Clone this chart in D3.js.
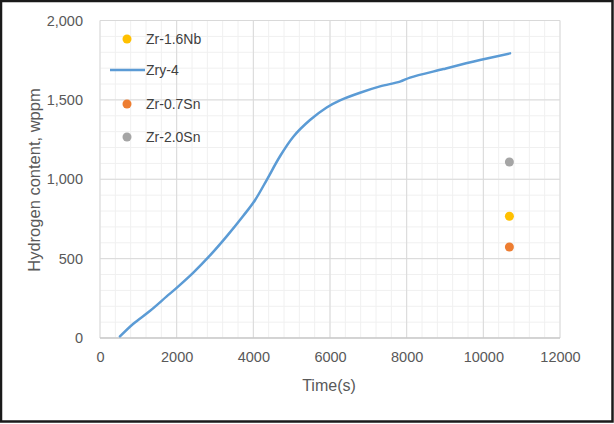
<!DOCTYPE html>
<html><head><meta charset="utf-8">
<script src="https://cdn.jsdelivr.net/npm/d3@7"></script>
<style>body{margin:0;background:#fff}svg{display:block}</style>
</head><body>
<script>
const zry4Time = [520, 870, 1300, 1740, 2000, 2435, 2870, 3304, 3739, 4043, 4348, 4696, 5043, 5478, 5913, 6261, 6783, 7304, 7826, 8087, 8957, 9913, 10696];
const zry4H =    [10, 90, 170, 262, 316, 412, 520, 640, 770, 868, 995, 1145, 1268, 1373, 1452, 1497, 1545, 1585, 1615, 1640, 1694, 1751, 1793];
const pointNames = ["Zr-1.6Nb", "Zr-0.7Sn", "Zr-2.0Sn"];
const pointTime = [10680, 10680, 10680];
const pointH = [767, 573, 1109];
const pointColors = ["#FFC000", "#ED7D31", "#A5A5A5"];
const legendOrder = ["Zr-1.6Nb", "Zry-4", "Zr-0.7Sn", "Zr-2.0Sn"];
const xTicks = [0, 2000, 4000, 6000, 8000, 10000, 12000];
const yTicks = [0, 500, 1000, 1500, 2000];

const W = 614, H = 424;
const svg = d3.select("body").append("svg").attr("width", W).attr("height", H);
svg.append("rect").attr("x", 1).attr("y", 1).attr("width", W - 2.5).attr("height", H - 3.5)
  .attr("fill", "#fff").attr("stroke", "#1a1a1a").attr("stroke-width", 2.5);

const x = d3.scaleLinear().domain([0, 12000]).range([100, 560]);
const y = d3.scaleLinear().domain([0, 2000]).range([338, 20.5]);
const font = "'Liberation Sans', Arial, sans-serif";

// minor grid
svg.append("g").selectAll("line").data(d3.range(0, 12001, 400)).join("line")
  .attr("x1", d => x(d)).attr("x2", d => x(d)).attr("y1", y(0)).attr("y2", y(2000))
  .attr("stroke", "#f0f0f0").attr("stroke-width", 1);
svg.append("g").selectAll("line").data(d3.range(0, 2001, 100)).join("line")
  .attr("x1", x(0)).attr("x2", x(12000)).attr("y1", d => y(d)).attr("y2", d => y(d))
  .attr("stroke", "#f0f0f0").attr("stroke-width", 1);
// major grid
svg.append("g").selectAll("line").data(xTicks).join("line")
  .attr("x1", d => x(d)).attr("x2", d => x(d)).attr("y1", y(0)).attr("y2", y(2000))
  .attr("stroke", "#d9d9d9").attr("stroke-width", 1);
svg.append("g").selectAll("line").data(yTicks).join("line")
  .attr("x1", x(0)).attr("x2", x(12000)).attr("y1", d => y(d)).attr("y2", d => y(d))
  .attr("stroke", "#d9d9d9").attr("stroke-width", 1);
// x axis line
svg.append("line").attr("x1", x(0)).attr("x2", x(12000)).attr("y1", y(0)).attr("y2", y(0))
  .attr("stroke", "#bfbfbf").attr("stroke-width", 1);

// axes (labels via d3 axis)
const xAxis = svg.append("g").attr("transform", `translate(0,${y(0)})`)
  .call(d3.axisBottom(x).tickValues(xTicks).tickFormat(d3.format("d")).tickSize(0).tickPadding(14));
xAxis.select(".domain").remove();
xAxis.selectAll("text").attr("fill", "#595959").attr("font-size", 14.5).attr("font-family", font);

const yAxis = svg.append("g").attr("transform", `translate(${x(0)},0)`)
  .call(d3.axisLeft(y).tickValues(yTicks).tickFormat(d3.format(",")).tickSize(0).tickPadding(17));
yAxis.select(".domain").remove();
yAxis.selectAll("text").attr("fill", "#595959").attr("font-size", 14.5).attr("font-family", font);

// axis titles
svg.append("text").attr("x", 329).attr("y", 391).attr("text-anchor", "middle")
  .attr("fill", "#595959").attr("font-size", 16).attr("font-family", font).text("Time(s)");
svg.append("text").attr("transform", `translate(40,180) rotate(-90)`).attr("text-anchor", "middle")
  .attr("fill", "#595959").attr("font-size", 16.5).attr("font-family", font).text("Hydrogen content, wppm");

// line
const line = d3.line().x((d, i) => x(zry4Time[i])).y((d, i) => y(zry4H[i])).curve(d3.curveCatmullRom);
svg.append("path").datum(zry4H).attr("d", line).attr("fill", "none")
  .attr("stroke", "#5B9BD5").attr("stroke-width", 2.5).attr("stroke-linecap", "round");

// points
svg.append("g").selectAll("circle").data(pointH).join("circle")
  .attr("cx", (d, i) => x(pointTime[i])).attr("cy", d => y(d)).attr("r", 4.5)
  .attr("fill", (d, i) => pointColors[i]);

// legend
const legY = [39, 70, 104, 137];
const lg = svg.append("g");
legendOrder.forEach((name, i) => {
  if (name === "Zry-4") {
    lg.append("line").attr("x1", 110).attr("x2", 145).attr("y1", legY[i]).attr("y2", legY[i])
      .attr("stroke", "#5B9BD5").attr("stroke-width", 2.5);
  } else {
    const k = pointNames.indexOf(name);
    lg.append("circle").attr("cx", 127).attr("cy", legY[i]).attr("r", 4.5).attr("fill", pointColors[k]);
  }
  lg.append("text").attr("x", 146).attr("y", legY[i]).attr("dy", "0.35em")
    .attr("fill", "#404040").attr("font-size", 14).attr("font-family", font).text(name);
});
</script>
</body></html>
